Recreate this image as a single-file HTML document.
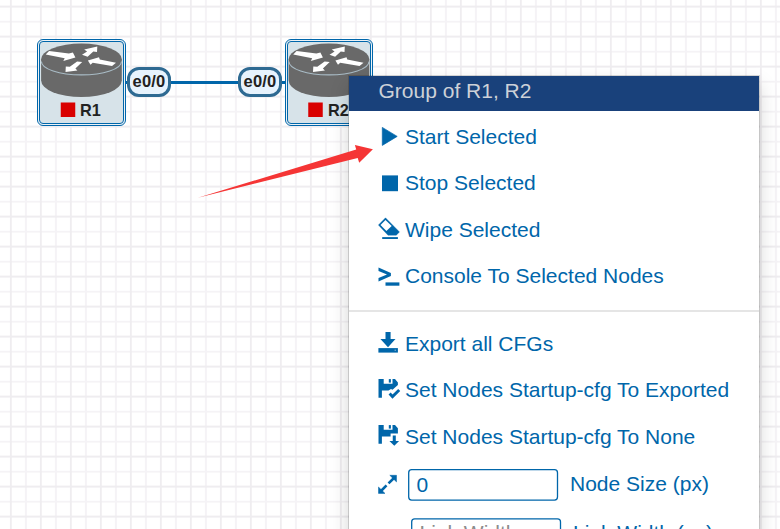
<!DOCTYPE html>
<html>
<head>
<meta charset="utf-8">
<title>Lab</title>
<style>
html,body{margin:0;padding:0;}
body{width:780px;height:529px;overflow:hidden;position:relative;background:#fff;font-family:"Liberation Sans",Arial,sans-serif;}
#grid{position:absolute;left:0;top:0;width:780px;height:529px;}
.node{position:absolute;box-sizing:border-box;border:1px solid #0066aa;border-radius:6px;background:#eef3f6;}
.node .in{position:absolute;left:1px;top:1px;right:1px;bottom:1px;box-sizing:border-box;border:1px solid #0066aa;border-radius:4px;background:#d7e3e9;}
.node svg{position:absolute;left:2px;top:2px;}
.node .nm{position:absolute;top:60px;font-size:16.3px;line-height:20px;font-weight:bold;color:#222;}
.link{position:absolute;background:#0066aa;height:3px;}
.ifl{position:absolute;box-sizing:border-box;width:44px;height:30px;border:3px solid #2e6a92;border-radius:12px;background:#e7f3fd;font-size:16.5px;letter-spacing:0.2px;font-weight:bold;color:#222;line-height:23px;text-align:center;}
#menu{position:absolute;left:349px;top:76px;width:410px;height:470px;background:#fff;box-shadow:0 9px 18px rgba(0,0,0,.175),0 0 0 1px rgba(0,0,0,.15);}
#menu .hd{position:absolute;left:0;top:0;width:410px;height:35px;background:#19417b;color:#cdd1d8;font-size:21px;line-height:34px;}
#menu .hd span{position:absolute;left:29.5px;top:-2.2px;}
.it{position:absolute;left:56px;font-size:21px;line-height:30px;color:#0066aa;white-space:nowrap;}
.ic{position:absolute;left:0;top:0;}
.sep{position:absolute;left:0;width:410px;height:1.5px;background:#e5e5e5;}
.inp{position:absolute;box-sizing:border-box;width:150px;height:31px;border:0;background:transparent;font-size:21px;line-height:28px;color:#0066aa;padding-left:8px;}
</style>
</head>
<body>
<svg id="grid" width="780" height="529">
<defs>
<pattern id="gp" x="0" y="0" width="30" height="30" patternUnits="userSpaceOnUse">
<rect x="24.9" y="0" width="2" height="30" fill="#f5f3f6"/>
<rect x="0" y="20.8" width="30" height="1.8" fill="#f5f3f6"/>
<rect x="9.9" y="0" width="1.85" height="30" fill="#efedf0"/>
<rect x="0" y="5.6" width="30" height="2" fill="#efedf0"/>
</pattern>
</defs>
<rect width="780" height="529" fill="url(#gp)"/>
</svg>

<div class="link" style="left:126px;top:80.5px;width:160px;"></div>

<div class="node" style="left:37px;top:39px;width:89px;height:87px;">
<div class="in"></div>
<svg width="83" height="80" viewBox="40 42 83 80">
<path d="M41.1 59.2 A40.3 15.6 0 0 1 121.8 59.2 L121.8 80.3 A40.35 16.8 0 0 1 41.1 80.3 Z" fill="#696969"/>
<rect x="60.75" y="102.5" width="14.5" height="14.5" fill="#d90000"/>
<path d="M41.4 61.4 A40.05 13.5 0 0 0 121.5 61.4" fill="none" stroke="#a9bcc6" stroke-width="1.1"/>
<g fill="#fff">
<polygon points="49.1,51.1 45.7,54.5 64.7,58.2 63.3,61 75.4,57.6 72.9,52.5 68.9,53.6"/>
<polygon points="65.5,72.1 65.8,66.4 69.8,66.7 77.1,61.6 82.2,62.1 75.4,68.4 77.4,70.4"/>
<polygon points="97.3,46.6 84.2,49.4 87.1,51.4 82,54.8 87.6,56.8 93.3,51.4 97,51.9"/>
<polygon points="87.9,60.4 99,57.3 99.8,59.6 116,62.7 112,66.1 92.7,62.7 90.5,64.7"/>
</g>
</svg>
<div class="nm" style="left:42px;">R1</div>
</div>

<div class="node" style="left:285px;top:39px;width:88px;height:87px;">
<div class="in"></div>
<svg width="83" height="80" viewBox="40.5 42 83 80">
<path d="M41.1 59.2 A40.3 15.6 0 0 1 121.8 59.2 L121.8 80.3 A40.35 16.8 0 0 1 41.1 80.3 Z" fill="#696969"/>
<rect x="60.75" y="102.5" width="14.5" height="14.5" fill="#d90000"/>
<path d="M41.4 61.4 A40.05 13.5 0 0 0 121.5 61.4" fill="none" stroke="#a9bcc6" stroke-width="1.1"/>
<g fill="#fff">
<polygon points="49.1,51.1 45.7,54.5 64.7,58.2 63.3,61 75.4,57.6 72.9,52.5 68.9,53.6"/>
<polygon points="65.5,72.1 65.8,66.4 69.8,66.7 77.1,61.6 82.2,62.1 75.4,68.4 77.4,70.4"/>
<polygon points="97.3,46.6 84.2,49.4 87.1,51.4 82,54.8 87.6,56.8 93.3,51.4 97,51.9"/>
<polygon points="87.9,60.4 99,57.3 99.8,59.6 116,62.7 112,66.1 92.7,62.7 90.5,64.7"/>
</g>
</svg>
<div class="nm" style="left:42px;">R2</div>
</div>

<div class="ifl" style="left:127px;top:67px;">e0/0</div>
<div class="ifl" style="left:238px;top:67px;">e0/0</div>

<div id="menu">
<div class="hd"><span>Group of R1, R2</span></div>
<div class="it" style="top:46px;">Start Selected</div>
<div class="it" style="top:92px;">Stop Selected</div>
<div class="it" style="top:139px;">Wipe Selected</div>
<div class="it" style="top:185px;">Console To Selected Nodes</div>
<div class="sep" style="top:234px;"></div>
<div class="it" style="top:253px;">Export all CFGs</div>
<div class="it" style="top:299px;">Set Nodes Startup-cfg To Exported</div>
<div class="it" style="top:346px;">Set Nodes Startup-cfg To None</div>
<div class="it" style="left:221px;top:393px;">Node Size (px)</div>
<div class="it" style="left:224px;top:442px;">Link Width (px)</div>
<svg class="ic" width="410" height="470" viewBox="349 76 410 470" fill="#0066aa">
<path d="M382.3 127.4 L397.2 136.4 L382.3 145.4 Z" stroke="#0066aa" stroke-width="0.7" stroke-linejoin="round"/>
<rect x="382" y="175.4" width="16" height="15.8"/>
<!-- eraser -->
<path d="M385.5 217.8 L399.5 231.9 L396.3 235.3 L388 235.3 L378.4 225 Z" stroke="#0066aa" stroke-width="0.3" stroke-linejoin="round"/>
<polygon points="385.5,219.9 380.5,225 386.4,231 391.7,225.9" fill="#fff"/>
<rect x="382.2" y="237.1" width="15.7" height="1.9"/>
<!-- console -->
<polygon points="378.5,267.6 390.9,273 390.9,276 378.5,281.5 378.5,278.1 387,274.5 378.5,270.9"/>
<rect x="385.5" y="282.4" width="13.9" height="3.3"/>
<!-- download -->
<polygon points="385.5,332 390.6,332 390.6,339 395.5,339 388,347.2 380.4,339 385.5,339"/>
<rect x="378.4" y="348.1" width="19.5" height="4.5"/><rect x="394.6" y="349.6" width="1.3" height="1.3" fill="#7fb0d3"/>
<!-- floppy saved -->
<path d="M378.5 379.1 L383.7 379.1 L383.7 383.8 L392.5 383.8 L392.5 379.1 L395 379.1 L397.9 382.6 L397.9 385 L392.5 389.8 L391 388.9 L388.5 390.5 L381.9 390.5 L381.9 397.7 L378.5 397.7 Z"/>
<rect x="388.8" y="379.1" width="2.1" height="3.5"/>
<path d="M389.6 393.6 L392.5 396.6 L399.2 390 " fill="none" stroke="#0066aa" stroke-width="2.9"/>
<!-- floppy save -->
<path d="M378.5 425.1 L383.7 425.1 L383.7 429.8 L392.5 429.8 L392.5 425.1 L395 425.1 L397.9 428.3 L397.9 433.4 L390.6 433.4 L390.6 436.5 L381.9 436.5 L381.9 443.7 L378.5 443.7 Z"/>
<rect x="388.8" y="425.1" width="2.1" height="3.5"/>
<polygon points="392.75,435.5 395.8,435.5 395.8,441 399.1,441 394.3,445.8 389.4,441 392.75,441"/>
<rect x="408.7" y="469.7" width="148.8" height="30.4" rx="3" fill="#fff" stroke="#0066aa" stroke-width="1.3"/>
<rect x="411.7" y="518.8" width="148.8" height="30.4" rx="3" fill="#fff" stroke="#0066aa" stroke-width="1.3"/>
<!-- resize -->
<polygon points="389.8,475.3 396.5,475.3 396.5,481.9" stroke="#0066aa" stroke-width="0.5" stroke-linejoin="round"/>
<polygon points="378.5,487 378.5,493.4 385,493.4" stroke="#0066aa" stroke-width="0.5" stroke-linejoin="round"/>
<path d="M394 478 L388.5 483.4 M381 491 L386.5 485.4" fill="none" stroke="#0066aa" stroke-width="2.6"/>
</svg>
<div class="inp" style="left:59.6px;top:395px;">0</div>
<div class="inp" style="left:62.5px;top:443px;color:#8c8c8c;">Link Width</div>
</div>

<svg style="position:absolute;left:0;top:0" width="780" height="529">
<polygon points="197.8,197.8 356.2,149.5 354.9,144.9 372.9,149.3 359.2,162.8 357.7,157.9" fill="#f53535"/>
</svg>
</body>
</html>
